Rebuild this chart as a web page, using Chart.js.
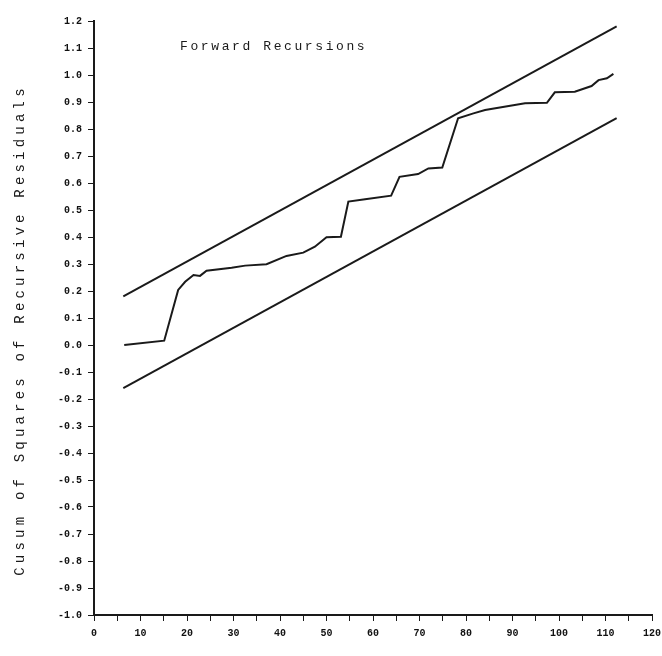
<!DOCTYPE html>
<html>
<head>
<meta charset="utf-8">
<title>Cusum of Squares</title>
<script src="https://cdn.jsdelivr.net/npm/chart.js@4/dist/chart.umd.min.js"></script>
<style>
    html, body { margin: 0; padding: 0; background: #fff; }
    #wrap { width: 662px; height: 656px; }
</style>
</head>
<body>
<div id="wrap"><canvas id="cusumChart" width="662" height="656"></canvas></div>
<script>
// Cusum of squares of recursive residuals (forward recursions)
const recT = [6.5, 15.1, 18.1, 19.6, 21.4, 22.8, 24.2, 29.6, 32.5, 37.1, 41.4, 45.0,
    47.5, 50.0, 53.1, 54.7, 58.3, 63.9, 65.7, 69.7, 71.9, 74.9, 78.3, 81.6, 84.1,
    92.7, 97.4, 99.1, 103.4, 107.0, 108.5, 110.3, 111.7];
const cusumSq = [0.00, 0.016, 0.204, 0.234, 0.259, 0.256, 0.275, 0.286, 0.294, 0.299,
    0.330, 0.342, 0.364, 0.399, 0.401, 0.531, 0.540, 0.553, 0.623, 0.633, 0.654,
    0.657, 0.840, 0.858, 0.870, 0.895, 0.897, 0.936, 0.938, 0.959, 0.981, 0.988, 1.004];

// 5% significance bounds (start and end of each straight line)
const boundT = [6.3, 112.4];
const upperBound = [0.18, 1.18];
const lowerBound = [-0.16, 0.84];

const panelLabel = 'Forward Recursions';
const yAxisTitle = 'Cusum of Squares of Recursive Residuals';

const toPoints = (xs, ys) => xs.map((x, i) => ({ x: x, y: ys[i] }));

const monoFont = '"Liberation Mono", "DejaVu Sans Mono", monospace';
const ink = '#1a1a1a';

// axis title and panel label drawn with wide printer-style spacing
const textPlugin = {
    id: 'printerText',
    afterDraw(chart) {
        const ctx = chart.ctx;
        const xs = chart.scales.x, ys = chart.scales.y;
        ctx.save();
        ctx.fillStyle = ink;
        ctx.font = '13px ' + monoFont;
        ctx.letterSpacing = '2.6px';
        ctx.textBaseline = 'middle';
        ctx.textAlign = 'left';
        ctx.fillText(panelLabel, xs.getPixelForValue(18.5), ys.getPixelForValue(1.105));

        ctx.font = '14px ' + monoFont;
        ctx.letterSpacing = '4.2px';
        ctx.translate(20, (chart.chartArea.top + chart.chartArea.bottom) / 2 + 12);
        ctx.rotate(-Math.PI / 2);
        ctx.textAlign = 'center';
        ctx.fillText(yAxisTitle, 0, 0);
        ctx.restore();
    }
};

const ctx = document.getElementById('cusumChart').getContext('2d');
const lineStyle = { borderColor: ink, borderWidth: 2, pointRadius: 0, tension: 0, fill: false };

new Chart(ctx, {
    type: 'line',
    data: {
        datasets: [
            Object.assign({ label: 'Cusum of squares', data: toPoints(recT, cusumSq) }, lineStyle),
            Object.assign({ label: 'Upper bound', data: toPoints(boundT, upperBound) }, lineStyle),
            Object.assign({ label: 'Lower bound', data: toPoints(boundT, lowerBound) }, lineStyle)
        ]
    },
    options: {
        responsive: false,
        animation: false,
        layout: { padding: { left: 0, right: 10, top: 21, bottom: 0 } },
        plugins: {
            legend: { display: false },
            tooltip: { enabled: false }
        },
        scales: {
            x: {
                type: 'linear',
                min: 0,
                max: 120,
                afterFit(scale) {
                    scale.height = 41;
                    scale.paddingLeft = 0;
                    scale.paddingRight = 0;
                },
                border: { color: ink, width: 2 },
                grid: { drawOnChartArea: false, drawTicks: true, tickLength: 6, color: ink },
                ticks: {
                    stepSize: 5,
                    autoSkip: false,
                    maxRotation: 0,
                    padding: 6,
                    color: '#111',
                    font: { family: monoFont, size: 10, weight: 'bold' },
                    callback: v => (v % 10 === 0 ? String(v) : '')
                }
            },
            y: {
                min: -1.0,
                max: 1.2,
                afterFit(scale) { scale.width = 94; },
                border: { color: ink, width: 2 },
                grid: { drawOnChartArea: false, drawTicks: true, tickLength: 6, color: ink },
                ticks: {
                    stepSize: 0.1,
                    autoSkip: false,
                    padding: 6,
                    color: '#111',
                    font: { family: monoFont, size: 10, weight: 'bold' },
                    callback: v => (Math.abs(v) < 1e-9 ? '0.0' : v.toFixed(1))
                }
            }
        }
    },
    plugins: [textPlugin]
});
</script>
</body>
</html>
